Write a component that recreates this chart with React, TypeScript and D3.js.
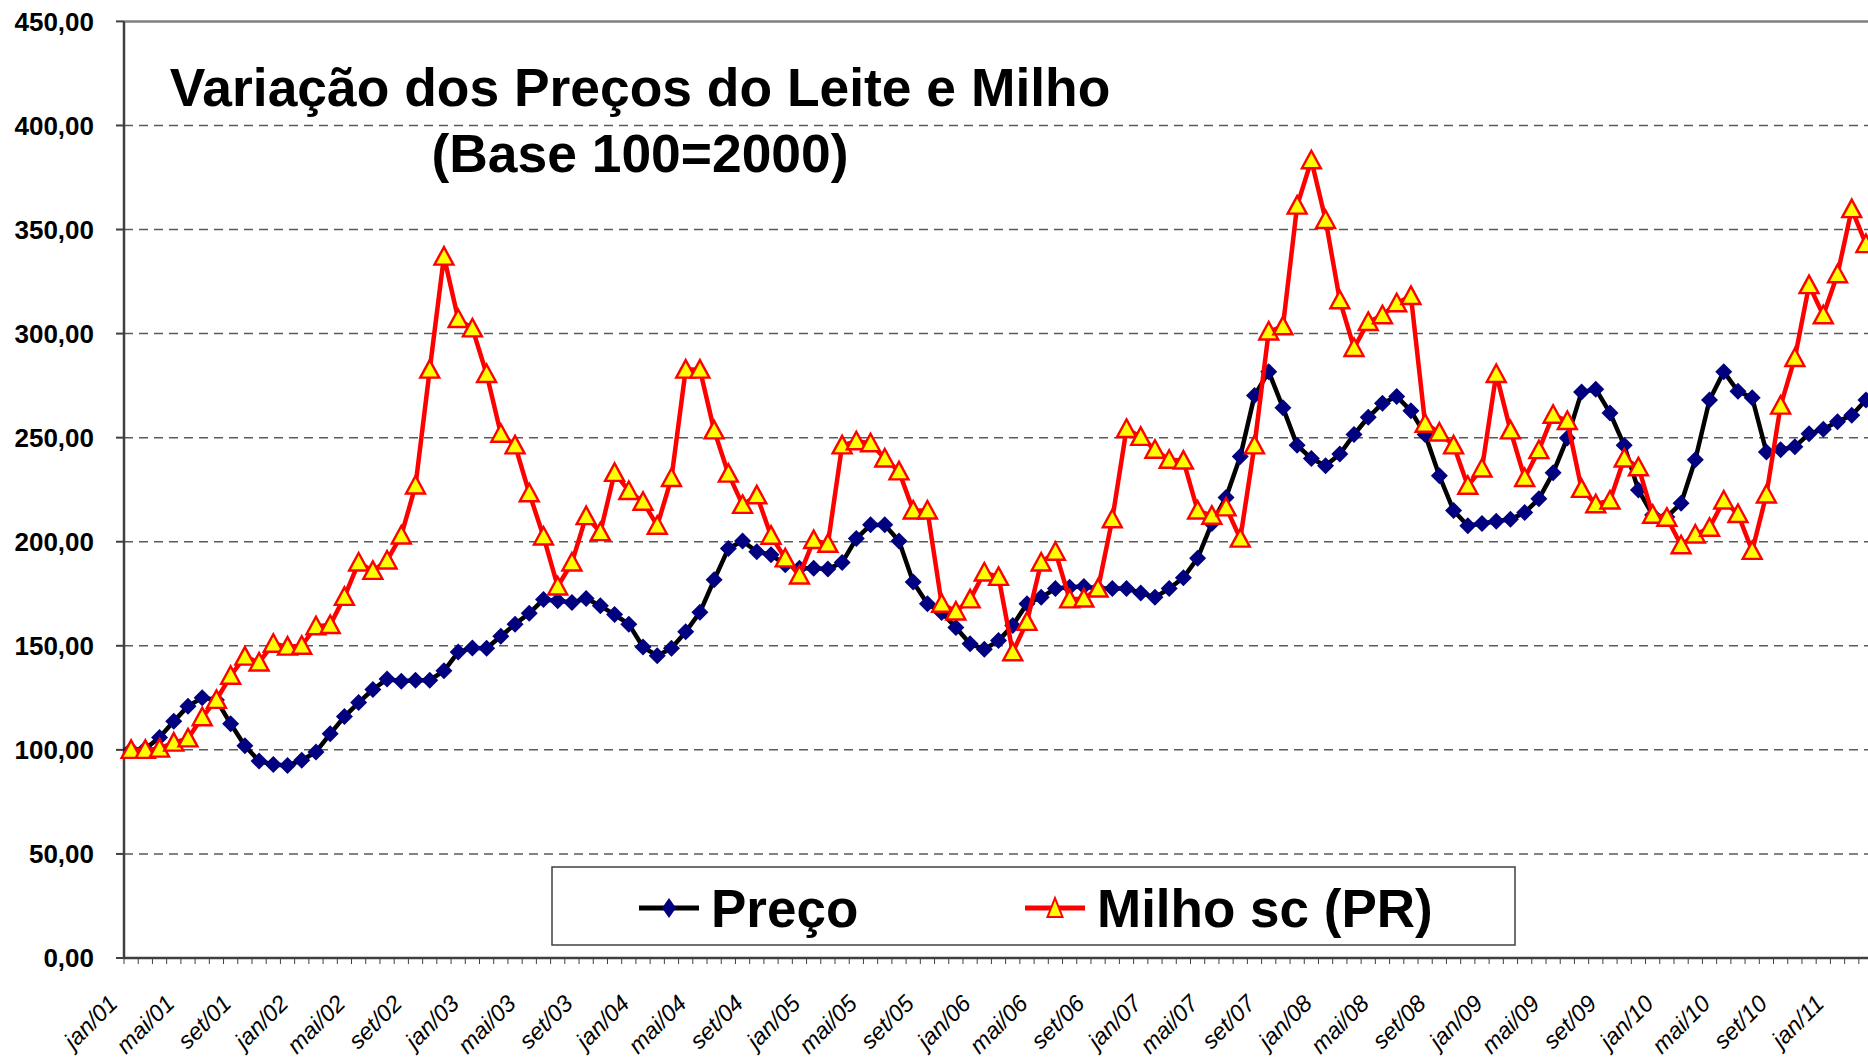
import React from "react";
import * as d3 from "d3";

// month names used on the category axis (pt-BR)
const monthNames = ["jan", "fev", "mar", "abr", "mai", "jun", "jul", "ago", "set", "out", "nov", "dez"];
const years = ["01", "02", "03", "04", "05", "06", "07", "08", "09", "10", "11"];

// Preço do leite (index, base 100 = 2000), jan/01 .. mar/11
const preco = [
    100, 100.5, 106, 113.7, 121, 125, 124, 112.5, 102, 94.6, 93, 92.5,
    95, 99, 107.7, 116, 122.7, 129, 134, 133, 133.5, 133.5, 138, 147,
    149, 148.8, 154.6, 160.4, 165.6, 172.3, 171.7, 170.8, 172.7, 169.2, 165, 160.4,
    149.4, 145.2, 148.8, 156.7, 166.1, 181.7, 196.7, 200.4, 195.2, 193.8, 188.9, 187.3,
    187.3, 186.9, 190, 201.5, 208.1, 208.1, 200.4, 180.6, 170.2, 166, 158.8, 151,
    148.3, 152.5, 159.8, 170.2, 173.3, 177.5, 178.1, 178.5, 177.5, 177.5, 177.5, 175.4,
    173.3, 177.5, 182.7, 192.1, 208.8, 221.3, 241, 270.2, 281.7, 264.4, 246.3, 240,
    236.5, 242.1, 251.5, 259.8, 266.5, 269.8, 262.9, 251.5, 231.7, 215, 207.7, 208.8,
    209.8, 210.8, 214, 220.6, 233.1, 249.8, 271.9, 273.3, 261.9, 246.3, 224.8, 212.9,
    211.9, 218.5, 239.4, 268.1, 281.7, 272.3, 269.2, 243.1, 244.2, 245.6, 251.9, 254,
    257.7, 260.8, 268.1,
];

// Milho saca (PR), same months
const milho = [
    100, 100, 100.6, 103.5, 105.5, 115.7, 124, 135.6, 144.8, 142, 151, 149.6,
    150, 159.4, 160, 173.5, 190, 186, 191, 203, 227, 282.7, 337, 307,
    302.5, 280.6, 251.9, 246.3, 223.3, 202.5, 178.5, 190, 212.3, 204.6, 233.1, 224.4,
    219.2, 207.7, 230.6, 282.7, 282.7, 253.5, 232.7, 217.7, 222.3, 202.9, 192, 183.8,
    200.8, 199, 246.3, 248.3, 247.3, 240, 233.8, 215, 215, 170.2, 166.5, 172.3,
    185.2, 183.1, 146.9, 161.5, 190, 195.2, 172.3, 172.7, 177.5, 210.8, 254.2, 250.4,
    244.2, 239.4, 239, 215, 212.5, 216.5, 201.5, 246.3, 301, 303.5, 361.5, 383.3,
    354.6, 316, 293.1, 305.6, 308.8, 314.6, 318.1, 256.7, 252.5, 246.3, 226.9, 235.2,
    280.6, 253.5, 230.6, 244, 261, 258, 225.4, 218, 219.8, 240, 235.8, 213,
    211.5, 198.3, 203.5, 206.7, 219.8, 213.3, 195.6, 222.7, 265.4, 288.3, 323.3, 308.8,
    328.5, 359.8, 343,
];

const yTicks = [0, 50, 100, 150, 200, 250, 300, 350, 400, 450];
const titleLines = ["Variação dos Preços do Leite e Milho", "(Base 100=2000)"];
const seriesNames = ["Preço", "Milho sc (PR)"];

const categories = [];
years.forEach((yy) => monthNames.forEach((m) => categories.push(`${m}/${yy}`)));
categories.length = preco.length;

const W = 1868;
const H = 1059;
const FONT = "'Liberation Sans', Arial, sans-serif";

export default function App() {
    const ref = React.useRef(null);

    React.useEffect(() => {
        const marginLeft = 124;
        const step = 14.22;
        const plotRight = marginLeft + step * categories.length; // plot runs past the picture edge
        const yTop = 21.4;
        const yBottom = 958;

        const x = d3.scaleBand().domain(categories).range([marginLeft, plotRight]).padding(0);
        const cx = (c) => x(c) + x.bandwidth() / 2;
        const y = d3.scaleLinear().domain([0, 450]).range([yBottom, yTop]);
        const fmt = (v) => d3.format(".2f")(v).replace(".", ",");

        const svg = d3.select(ref.current);
        svg.selectAll("*").remove();

        svg.append("rect").attr("width", W).attr("height", H).attr("fill", "#fff");

        // gridlines
        svg.append("g")
            .selectAll("line")
            .data(yTicks.filter((t) => t > 0 && t < 450))
            .join("line")
            .attr("x1", marginLeft)
            .attr("x2", plotRight)
            .attr("y1", (d) => y(d))
            .attr("y2", (d) => y(d))
            .attr("stroke", "#5a5a5a")
            .attr("stroke-width", 1.5)
            .attr("stroke-dasharray", "9,6");

        // top border of plot
        svg.append("line")
            .attr("x1", marginLeft)
            .attr("x2", plotRight)
            .attr("y1", y(450))
            .attr("y2", y(450))
            .attr("stroke", "#808080")
            .attr("stroke-width", 2.5);

        // y axis
        svg.append("line")
            .attr("x1", marginLeft)
            .attr("x2", marginLeft)
            .attr("y1", y(0))
            .attr("y2", y(450))
            .attr("stroke", "#404040")
            .attr("stroke-width", 2.5);
        svg.append("g")
            .selectAll("line")
            .data(yTicks)
            .join("line")
            .attr("x1", marginLeft - 8)
            .attr("x2", marginLeft)
            .attr("y1", (d) => y(d))
            .attr("y2", (d) => y(d))
            .attr("stroke", "#404040")
            .attr("stroke-width", 2);
        svg.append("g")
            .selectAll("text")
            .data(yTicks)
            .join("text")
            .attr("x", 94)
            .attr("y", (d) => y(d))
            .attr("dy", "0.36em")
            .attr("text-anchor", "end")
            .attr("font-family", FONT)
            .attr("font-weight", "bold")
            .attr("font-size", 26)
            .text(fmt);

        // x axis
        svg.append("line")
            .attr("x1", marginLeft)
            .attr("x2", plotRight)
            .attr("y1", yBottom)
            .attr("y2", yBottom)
            .attr("stroke", "#404040")
            .attr("stroke-width", 2.5);
        svg.append("g")
            .selectAll("line")
            .data(categories)
            .join("line")
            .attr("x1", (d) => x(d))
            .attr("x2", (d) => x(d))
            .attr("y1", yBottom)
            .attr("y2", yBottom + 6)
            .attr("stroke", "#404040")
            .attr("stroke-width", 1);
        svg.append("g")
            .selectAll("text")
            .data(categories.filter((d, i) => i % 4 === 0))
            .join("text")
            .attr("transform", (d) => `translate(${cx(d) - 12},${1005}) rotate(-45)`)
            .attr("text-anchor", "end")
            .attr("font-family", FONT)
            .attr("font-style", "italic")
            .attr("font-size", 23.5)
            .text((d) => d);

        const diamond = "M0,-8.5L8.5,0L0,8.5L-8.5,0Z";
        const triangle = "M0,-9.5L9.5,8L-9.5,8Z";

        // Preço
        const linePreco = d3
            .line()
            .x((d, i) => cx(categories[i]))
            .y((d) => y(d));
        svg.append("path")
            .datum(preco)
            .attr("d", linePreco)
            .attr("fill", "none")
            .attr("stroke", "#000")
            .attr("stroke-width", 4.5)
            .attr("stroke-linejoin", "round");
        svg.append("g")
            .selectAll("path")
            .data(preco)
            .join("path")
            .attr("transform", (d, i) => `translate(${cx(categories[i])},${y(d)})`)
            .attr("d", diamond)
            .attr("fill", "#000080");

        // Milho
        svg.append("path")
            .datum(milho)
            .attr("d", linePreco)
            .attr("fill", "none")
            .attr("stroke", "#ff0000")
            .attr("stroke-width", 4.5)
            .attr("stroke-linejoin", "round");
        svg.append("g")
            .selectAll("path")
            .data(milho)
            .join("path")
            .attr("transform", (d, i) => `translate(${cx(categories[i])},${y(d)})`)
            .attr("d", triangle)
            .attr("fill", "#ffff00")
            .attr("stroke", "#ff0000")
            .attr("stroke-width", 2.4)
            .attr("stroke-linejoin", "miter");

        // title
        svg.append("g")
            .selectAll("text")
            .data(titleLines)
            .join("text")
            .attr("x", 640)
            .attr("y", (d, i) => (i === 0 ? 106 : 172))
            .attr("text-anchor", "middle")
            .attr("font-family", FONT)
            .attr("font-weight", "bold")
            .attr("font-size", 53.4)
            .text((d) => d);

        // legend
        const lg = svg.append("g");
        lg.append("rect")
            .attr("x", 552)
            .attr("y", 867)
            .attr("width", 963)
            .attr("height", 78)
            .attr("fill", "#fff")
            .attr("stroke", "#404040")
            .attr("stroke-width", 1.5);
        const items = [
            { name: seriesNames[0], x0: 639, stroke: "#000", marker: "M0,-10L7,0L0,10L-7,0Z", fill: "#000080", mstroke: "none" },
            { name: seriesNames[1], x0: 1025, stroke: "#ff0000", marker: "M0,-10L7.5,9L-7.5,9Z", fill: "#ffff00", mstroke: "#ff0000" },
        ];
        items.forEach((it) => {
            lg.append("line")
                .attr("x1", it.x0)
                .attr("x2", it.x0 + 60)
                .attr("y1", 908)
                .attr("y2", 908)
                .attr("stroke", it.stroke)
                .attr("stroke-width", 5);
            lg.append("path")
                .attr("transform", `translate(${it.x0 + 30},908)`)
                .attr("d", it.marker)
                .attr("fill", it.fill)
                .attr("stroke", it.mstroke)
                .attr("stroke-width", 2);
            lg.append("text")
                .attr("x", it.x0 + 72)
                .attr("y", 908)
                .attr("dy", "0.36em")
                .attr("font-family", FONT)
                .attr("font-weight", "bold")
                .attr("font-size", 53)
                .text(it.name);
        });
    }, []);

    return (
        <svg
            ref={ref}
            width={W}
            height={H}
            style={{ position: "absolute", left: 0, top: 0, display: "block" }}
        ></svg>
    );
}
